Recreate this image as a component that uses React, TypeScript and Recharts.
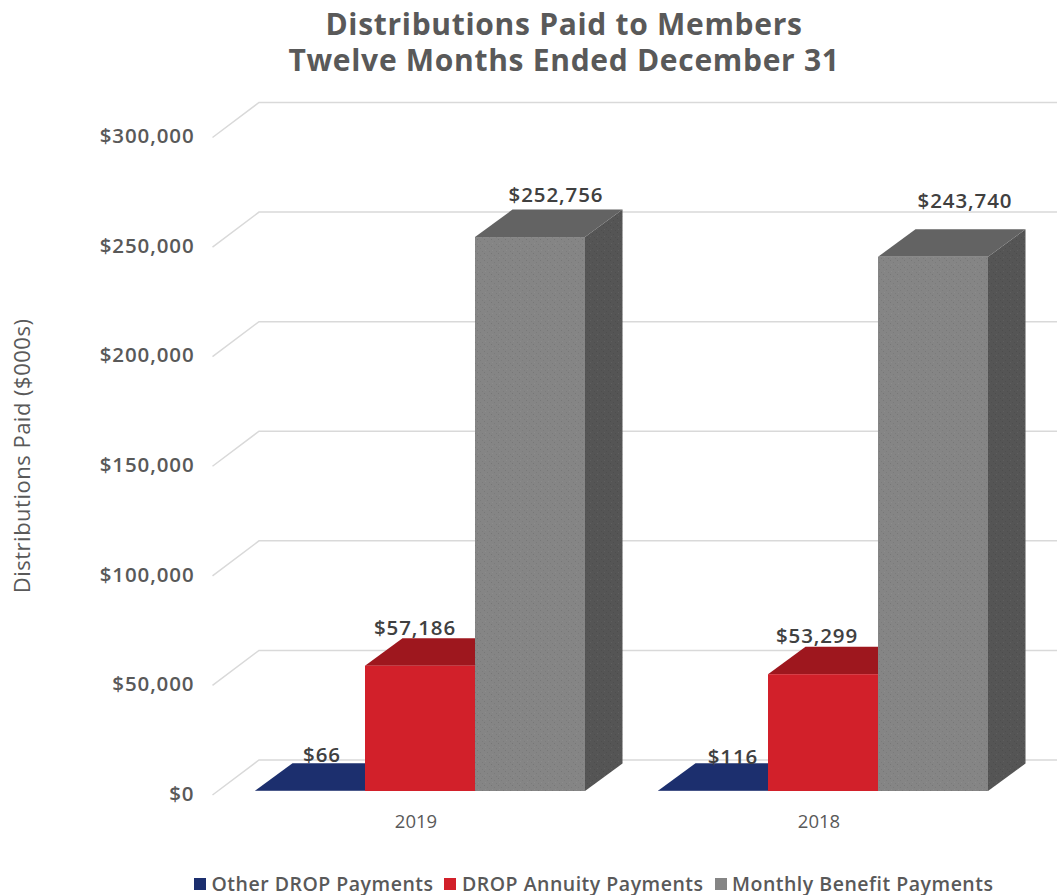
import {
  BarChart,
  Bar,
  XAxis,
  YAxis,
  CartesianGrid,
  Legend,
  LabelList,
} from "recharts";

const categories = ["2019", "2018"];
const otherDrop = [66, 116];
const dropAnnuity = [57186, 53299];
const monthlyBenefit = [252756, 243740];
const yTicks = [0, 50000, 100000, 150000, 200000, 250000, 300000];

const chartData = categories.map((year, i) => ({
  year,
  other: otherDrop[i],
  annuity: dropAnnuity[i],
  monthly: monthlyBenefit[i],
}));

const FONT = "'Open Sans', sans-serif";
const DEPTH_X = 37.5;
const DEPTH_Y = 27.5;

const money = (v: number) => "$" + v.toLocaleString("en-US");

// the Excel 3D labels don't sit at a consistent spot, so nudge each one
const labelNudge: Record<string, [number, number][]> = {
  other: [[12, -36], [20, -34]],
  annuity: [[-5, -38], [-6, -38]],
  monthly: [[26, -42], [32, -56]],
};

function box(front: string, top: string, side: string, stipple = false) {
  return (props: any) => {
    const { x, y, width, height } = props;
    const r = x + width;
    const b = y + height;
    const sidePts = `${r},${y} ${r + DEPTH_X},${y - DEPTH_Y} ${r + DEPTH_X},${b - DEPTH_Y} ${r},${b}`;
    return (
      <g>
        <polygon points={sidePts} fill={side} />
        {stipple && <polygon points={sidePts} fill="url(#stipple)" />}
        <polygon
          points={`${x},${y} ${r},${y} ${r + DEPTH_X},${y - DEPTH_Y} ${x + DEPTH_X},${y - DEPTH_Y}`}
          fill={top}
        />
        <rect x={x} y={y} width={width} height={height} fill={front} />
        {stipple && <rect x={x} y={y} width={width} height={height} fill="url(#stipple)" />}
      </g>
    );
  };
}

function barLabel(key: string) {
  return (props: any) => {
    const { x, y, width, value, index } = props;
    const [dx, dy] = labelNudge[key][index];
    return (
      <text
        x={x + width / 2 + dx}
        y={y + dy + 7}
        textAnchor="middle"
        fill="#404040"
        fontFamily={FONT}
        fontSize={20.5}
        fontWeight={600}
        letterSpacing={0.9}
      >
        {money(value)}
      </text>
    );
  };
}

function gridLine(props: any) {
  const { x1, y1, x2 } = props;
  return (
    <polyline
      key={props.key ?? y1}
      points={`${x1 - 6},${y1 + 4} ${x1 + 40.5},${y1 - 31} ${x2 + 33},${y1 - 31}`}
      fill="none"
      stroke="#d9d9d9"
      strokeWidth={1.5}
    />
  );
}

function legendContent({ payload }: any) {
  return (
    <div
      style={{
        display: "flex",
        paddingLeft: 194,
        paddingTop: 17,
        fontFamily: FONT,
        fontSize: 19.5,
        fontWeight: 600,
        letterSpacing: 0.5,
        color: "#595959",
        lineHeight: "24px",
      }}
    >
      {(payload || []).map((p: any) => (
        <span key={p.value} style={{ display: "flex", alignItems: "center", marginRight: 11 }}>
          <span style={{ width: 12, height: 12, background: p.color, marginRight: 5.5 }} />
          {p.value}
        </span>
      ))}
    </div>
  );
}

export default function App() {
  return (
    <div style={{ position: "absolute", left: 0, top: 0, width: 1057, height: 895, background: "#fff" }}>
      <div
        style={{
          position: "absolute",
          left: 0,
          width: 1128,
          top: 6,
          textAlign: "center",
          fontFamily: FONT,
          fontWeight: 700,
          fontSize: 30,
          letterSpacing: 0.7,
          lineHeight: "36px",
          color: "#595959",
        }}
      >
        Distributions Paid to Members
        <br />
        Twelve Months Ended December 31
      </div>
      <BarChart
        width={1057}
        height={895}
        data={chartData}
        margin={{ top: 133.5, right: 32.5, bottom: 0, left: 0 }}
        barCategoryGap={36.5}
        barGap={0}
        style={{ position: "absolute", left: 0, top: 0 }}
      >
        <defs>
          <pattern id="stipple" width="7" height="7" patternUnits="userSpaceOnUse">
            <rect x="1" y="1" width="1" height="1" fill="#000" opacity="0.1" />
            <rect x="4" y="3" width="1" height="1" fill="#000" opacity="0.08" />
            <rect x="2" y="5" width="1" height="1" fill="#fff" opacity="0.06" />
            <rect x="6" y="6" width="1" height="1" fill="#000" opacity="0.08" />
          </pattern>
        </defs>
        <CartesianGrid vertical={false} horizontal={gridLine} />
        <XAxis
          dataKey="year"
          height={64}
          axisLine={false}
          tickLine={false}
          tickMargin={18}
          tick={{ fill: "#595959", fontFamily: FONT, fontSize: 18.5, dx: -4 }}
        />
        <YAxis
          width={218.5}
          domain={[0, 300000]}
          ticks={yTicks}
          tickFormatter={money}
          axisLine={false}
          tickLine={false}
          tickMargin={18}
          tick={{ fill: "#595959", fontFamily: FONT, fontSize: 20.5, fontWeight: 600, letterSpacing: 0.9, dy: 2.5 }}
          label={{
            value: "Distributions Paid ($000s)",
            angle: -90,
            position: "insideLeft",
            dx: 17,
            dy: 131,
            fill: "#595959",
            fontFamily: FONT,
            fontSize: 22,
            letterSpacing: 0.5,
            fontWeight: 500,
          }}
        />
        <Legend height={40} verticalAlign="bottom" itemSorter={null} content={legendContent} />
        <Bar
          dataKey="other"
          name="Other DROP Payments"
          fill="#1c2f6e"
          isAnimationActive={false}
          shape={box("#1c2f6e", "#1c2f6e", "#16265a")}
        >
          <LabelList dataKey="other" content={barLabel("other")} />
        </Bar>
        <Bar
          dataKey="annuity"
          name="DROP Annuity Payments"
          fill="#d2202a"
          isAnimationActive={false}
          shape={box("#d2202a", "#9e171e", "#9e171e")}
        >
          <LabelList dataKey="annuity" content={barLabel("annuity")} />
        </Bar>
        <Bar
          dataKey="monthly"
          name="Monthly Benefit Payments"
          fill="#858585"
          isAnimationActive={false}
          shape={box("#858585", "#636363", "#555555", true)}
        >
          <LabelList dataKey="monthly" content={barLabel("monthly")} />
        </Bar>
      </BarChart>
    </div>
  );
}
